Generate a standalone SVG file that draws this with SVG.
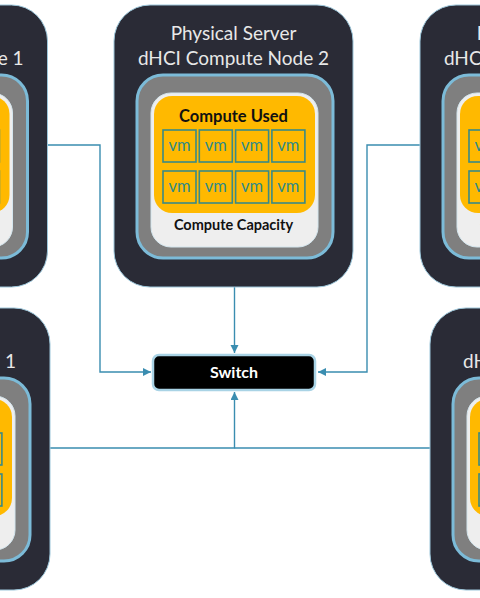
<svg xmlns="http://www.w3.org/2000/svg" xmlns:xlink="http://www.w3.org/1999/xlink" width="480" height="598" viewBox="0 0 480 598">
<style>
.dark{fill:#2a2b36;stroke:#9cc6da;stroke-width:1}
.gray{fill:#7f7f7f;stroke:#7cbbd8;stroke-width:3}
.light{fill:#eeeeee;stroke:#d4e6ee;stroke-width:1}
.orange{fill:#ffb900}
.vm{fill:none;stroke:#3a8a86;stroke-width:1.6}
.vmt{font-family:Lato,"Liberation Sans",sans-serif;font-size:16.5px;fill:#2f8a88;text-anchor:middle}
.title{font-family:Lato,"Open Sans",sans-serif;font-size:19px;fill:#e8e8e8}
.mid{text-anchor:middle}
.end{text-anchor:end}
.start{text-anchor:start}
.bold{font-family:Lato,"Liberation Sans",sans-serif;font-weight:bold;fill:#111;text-anchor:middle}
.conn{fill:none;stroke:#3a8db0;stroke-width:1.4}
.sw{fill:#000;stroke:#a9d3e5;stroke-width:2.5}
.swt{font-family:Lato,"Liberation Sans",sans-serif;font-weight:bold;font-size:16px;fill:#fff;text-anchor:middle}
</style>
<defs>
<marker id="arr" markerUnits="userSpaceOnUse" markerWidth="9" markerHeight="9" refX="8" refY="4" orient="auto">
<path d="M0,0 L8,4 L0,8 z" fill="#3a8db0"/>
</marker>
<g id="body">
<rect class="dark" x="0" y="0" width="239" height="282" rx="36"/>
<rect class="gray" x="23" y="70" width="196" height="183" rx="26"/>
<rect class="light" x="37" y="88" width="167" height="154" rx="20"/>
<rect class="orange" x="40" y="91" width="161" height="117" rx="18"/>
<text class="bold" x="119.5" y="117" font-size="16.5">Compute Used</text>
<rect class="vm" x="49" y="125" width="33" height="32"/>
<rect class="vm" x="85.3" y="125" width="33" height="32"/>
<rect class="vm" x="121.6" y="125" width="33" height="32"/>
<rect class="vm" x="157.9" y="125" width="33" height="32"/>
<rect class="vm" x="49" y="166" width="33" height="32"/>
<rect class="vm" x="85.3" y="166" width="33" height="32"/>
<rect class="vm" x="121.6" y="166" width="33" height="32"/>
<rect class="vm" x="157.9" y="166" width="33" height="32"/>
<text class="vmt" x="65.5" y="146">vm</text>
<text class="vmt" x="101.8" y="146">vm</text>
<text class="vmt" x="138.1" y="146">vm</text>
<text class="vmt" x="174.4" y="146">vm</text>
<text class="vmt" x="65.5" y="187">vm</text>
<text class="vmt" x="101.8" y="187">vm</text>
<text class="vmt" x="138.1" y="187">vm</text>
<text class="vmt" x="174.4" y="187">vm</text>
<text class="bold" x="119.5" y="225" font-size="14.5">Compute Capacity</text>
</g>
</defs>
<rect width="480" height="598" fill="#ffffff"/>
<g id="connectors">
<path class="conn" d="M48,145 H100 V372 H151" marker-end="url(#arr)"/>
<path class="conn" d="M420,145 H367 V372 H318" marker-end="url(#arr)"/>
<path class="conn" d="M234.5,287 V353" marker-end="url(#arr)"/>
<path class="conn" d="M50,448 H234.5 V392" marker-end="url(#arr)"/>
<path class="conn" d="M430,448 H234.5"/>
</g>
<g id="node1" transform="translate(-191.5,5)">
<use xlink:href="#body"/>
<text class="title mid" x="119.5" y="35">Physical Server</text>
<text class="title mid" x="119.5" y="60">dHCI Compute Node 1</text>
</g>
<g id="node2" transform="translate(114,5)">
<use xlink:href="#body"/>
<text class="title mid" x="119.5" y="35">Physical Server</text>
<text class="title mid" x="119.5" y="60">dHCI Compute Node 2</text>
</g>
<g id="node3" transform="translate(420,5)">
<use xlink:href="#body"/>
<text class="title mid" x="119.5" y="35">Physical Server</text>
<text class="title mid" x="119.5" y="60">dHCI Compute Node 3</text>
</g>
<g id="node4" transform="translate(-189,308)">
<use xlink:href="#body"/>
<text class="title mid" x="119.5" y="35">Physical Server</text>
<text class="title end" x="205" y="60">dHCI Storage Node 1</text>
</g>
<g id="node5" transform="translate(430,308)">
<use xlink:href="#body"/>
<text class="title mid" x="119.5" y="35">Physical Server</text>
<text class="title start" x="33" y="60">dHCI Storage Node 2</text>
</g>
<g id="switch">
<rect class="sw" x="153" y="355" width="162" height="35" rx="6"/>
<text class="swt" x="234" y="378">Switch</text>
</g>
</svg>
